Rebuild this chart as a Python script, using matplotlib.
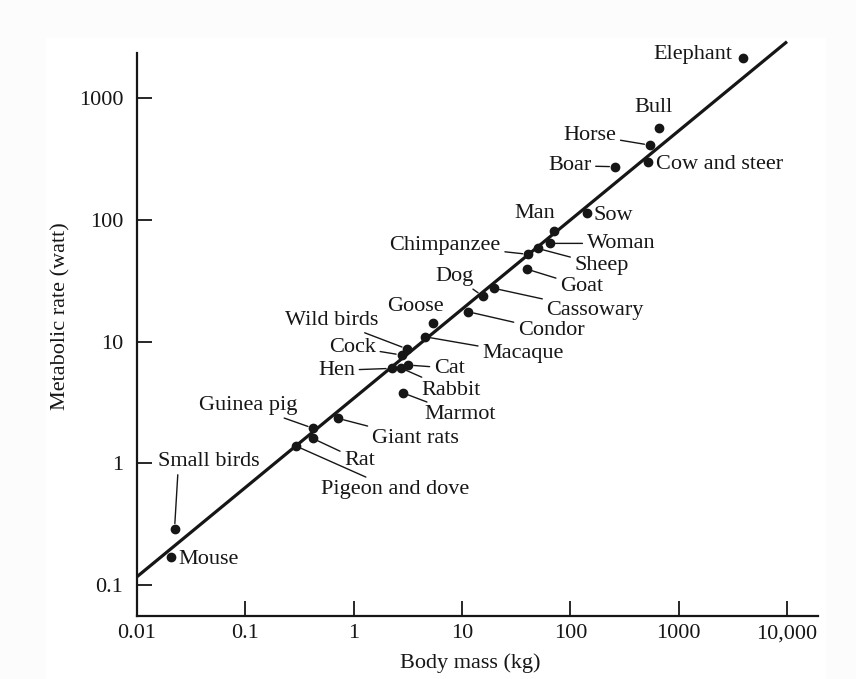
import matplotlib.pyplot as plt
from matplotlib.patches import Rectangle
from matplotlib.ticker import FixedLocator, FixedFormatter, NullLocator

# body mass (kg) and metabolic rate (watt)
names = ["Mouse", "Small birds", "Pigeon and dove", "Rat", "Guinea pig", "Giant rats",
         "Hen", "Rabbit", "Cock", "Marmot", "Wild birds", "Cat", "Macaque", "Goose",
         "Condor", "Dog", "Cassowary", "Goat", "Chimpanzee", "Sheep", "Woman", "Man",
         "Sow", "Boar", "Cow and steer", "Horse", "Bull", "Elephant"]
mass = [0.0205, 0.0222, 0.292, 0.417, 0.423, 0.719,
        2.24, 2.73, 2.77, 2.83, 3.12, 3.19, 4.54, 5.42,
        11.4, 15.5, 19.8, 39.5, 40.8, 49.9, 64.8, 70.3,
        143, 258, 517, 543, 658, 3953]
rate = [0.169, 0.288, 1.39, 1.605, 1.94, 2.34,
        6.03, 6.07, 7.76, 3.80, 8.70, 6.42, 10.97, 14.1,
        17.6, 23.7, 27.4, 39.5, 52.2, 58.4, 64.2, 81.5,
        114.6, 274, 301, 412, 573, 2153]

fit_mass = [0.01, 10000]
fit_rate = [0.117, 2920]

xticks = [0.01, 0.1, 1, 10, 100, 1000, 10000]
xticklabels = ["0.01", "0.1", "1", "10", "100", "1000", "10,000"]
yticks = [0.1, 1, 10, 100, 1000]
yticklabels = ["0.1", "1", "10", "100", "1000"]

# label offsets in pixels (text centre relative to the point), leader line yes/no
layout = {
    "Mouse": (38, -2, False), "Small birds": (34, 68, True),
    "Pigeon and dove": (99, -44, True), "Rat": (47, -22, True),
    "Guinea pig": (-65, 23, True), "Giant rats": (77, -20, True),
    "Hen": (-55, -2, True), "Rabbit": (50, -22, True), "Cock": (-49, 8, True),
    "Marmot": (58, -22, True), "Wild birds": (-76, 29, True), "Cat": (41, -3, True),
    "Macaque": (98, -17, True), "Goose": (-18, 17, False), "Condor": (83, -19, True),
    "Dog": (-28, 20, True), "Cassowary": (101, -22, True), "Goat": (55, -17, True),
    "Chimpanzee": (-83, 9, True), "Sheep": (64, -17, True), "Woman": (71, 0, True),
    "Man": (-19, 17, False), "Sow": (26, -3, False), "Boar": (-45, 1, True),
    "Cow and steer": (72, -3, False), "Horse": (-60, 10, True), "Bull": (-5, 20, False),
    "Elephant": (-50, 3, False),
}

plt.rcParams['font.family'] = ['Liberation Serif', 'DejaVu Serif']
ink = '#161616'
fs = 16

fig = plt.figure(figsize=(8.56, 6.79), dpi=100, facecolor='#fcfcfc')
fig.patches.append(Rectangle((46 / 856, 0), (826 - 46) / 856, 1 - 38 / 679,
                             transform=fig.transFigure, facecolor='white',
                             edgecolor='none', zorder=-1))
ax = fig.add_axes([137 / 856, 1 - 616 / 679, (818 - 137) / 856, (616 - 40) / 679])
ax.set_facecolor('none')

ax.set_xscale('log')
ax.set_yscale('log')
ax.set_xlim(0.01, 10 ** (-2 + (818 - 137.2) / 108.3))
ax.set_ylim(10 ** (-1 - (616 - 585) / 121.7), 10 ** (3 + (98.3 - 40) / 121.7))

ax.plot(fit_mass, fit_rate, color=ink, lw=2.3, solid_capstyle='butt', clip_on=False)
ax.plot(mass, rate, 'o', color=ink, ms=6, clip_on=False)

for n, x, y in zip(names, mass, rate):
    dx, dy, lead = layout[n]
    kw = dict(xy=(x, y), xytext=(dx, dy), textcoords='offset pixels',
              ha='center', va='center', fontsize=fs, color=ink)
    if lead:
        rp = (0.2, 0.0) if n == "Small birds" else (0.5, 0.5)
        kw['arrowprops'] = dict(arrowstyle='-', color=ink, lw=1.0,
                                shrinkA=1, shrinkB=4, relpos=rp)
    ax.annotate(n, **kw)

ax.xaxis.set_major_locator(FixedLocator(xticks))
ax.xaxis.set_major_formatter(FixedFormatter(xticklabels))
ax.yaxis.set_major_locator(FixedLocator(yticks))
ax.yaxis.set_major_formatter(FixedFormatter(yticklabels))
ax.xaxis.set_minor_locator(NullLocator())
ax.yaxis.set_minor_locator(NullLocator())
ax.tick_params(direction='in', length=11, width=1.3, colors=ink, labelsize=fs)
ax.tick_params(axis='y', pad=10)
ax.tick_params(axis='x', pad=6)

for s in ['top', 'right']:
    ax.spines[s].set_visible(False)
for s in ['left', 'bottom']:
    ax.spines[s].set_linewidth(1.6)
    ax.spines[s].set_color(ink)
ax.spines['left'].set_bounds(ax.get_ylim()[0], 10 ** (3 + (98.3 - 52.7) / 121.7))

ax.set_xlabel('Body mass (kg)', fontsize=fs, color=ink)
ax.set_ylabel('Metabolic rate (watt)', fontsize=fs, color=ink)
ax.xaxis.set_label_coords(0.49, -0.064)
ax.yaxis.set_label_coords(-0.097, 0.52)

fig.savefig('out.png', dpi=100, facecolor=fig.get_facecolor())
